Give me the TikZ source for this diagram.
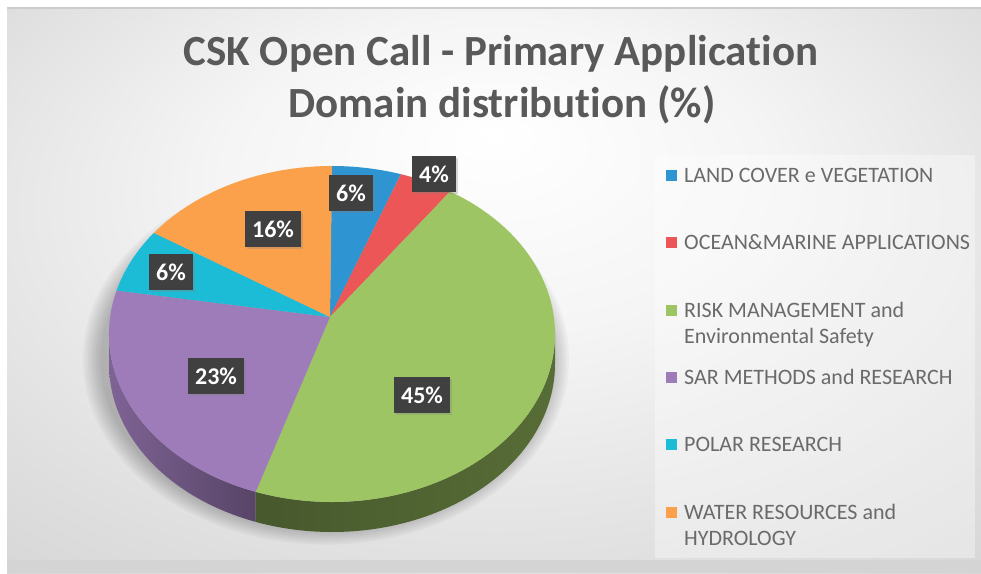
\documentclass[tikz,border=0pt]{standalone}
\usepackage{fontspec}
\setmainfont{Carlito}[Ligatures=NoCommon]
\usepackage{tikz}
\usetikzlibrary{arrows,positioning}
\usetikzlibrary{shadows}

\definecolor{landblue}{HTML}{2E95D2}
\definecolor{oceanred}{HTML}{EC5656}
\definecolor{riskgreen}{HTML}{9EC563}
\definecolor{sarpurple}{HTML}{9E7CBA}
\definecolor{polarcyan}{HTML}{1CBBD6}
\definecolor{waterorange}{HTML}{FBA14B}
\definecolor{boxgray}{HTML}{404040}
\definecolor{txtgray}{HTML}{595959}

\pgfdeclareradialshading{panelshade}{\pgfpoint{0bp}{14bp}}{color(0bp)=(white); color(14bp)=(black!4); color(32bp)=(black!13); color(50bp)=(black!21)}

\tikzset{
  ttl/.style={text=txtgray, font=\bfseries\fontsize{43}{43}\selectfont, inner sep=0pt, anchor=base},
  pctbox/.style={fill=boxgray, text=white, font=\bfseries\fontsize{24}{24}\selectfont,
    inner xsep=7pt, inner ysep=0pt, minimum height=36pt,
    drop shadow={opacity=0.3, shadow xshift=2pt, shadow yshift=-2pt}},
  legkey/.style={fill=#1, minimum size=11pt, inner sep=0pt},
  legtxt/.style={text=txtgray!90, font=\fontsize{22}{26}\selectfont, inner sep=0pt, anchor=base west, align=left}
}

\begin{document}
\begin{tikzpicture}[x=1pt,y=1pt]%
\useasboundingbox (0,0) rectangle (981,573);
% panel
\fill[white] (0,0) rectangle (981,573);
\shade[shading=panelshade] (7,0) rectangle (981,565);
\fill[black!17] (7,0) rectangle (981,13);
\draw[black!20, line width=2pt] (7,565) -- (981,565);
\fill[white, opacity=0.35] (655,15) rectangle (975,418);

% shadow below the pie
\foreach \k in {1,...,8}
  \fill[black, opacity=0.03] (326,214) ellipse [x radius=223+\k*2.5, y radius=168+\k*2.2];

\begin{scope}[shift={(332,239)}]
  % side of the pie
  \shade[left color=sarpurple!80!black, right color=sarpurple!55!black]
    (180:223 and 168) arc[start angle=180, end angle=250, x radius=223, y radius=168]
    -- ++(0,-30) arc[start angle=250, end angle=180, x radius=223, y radius=168] -- cycle;
  \shade[left color=riskgreen!45!black, right color=riskgreen!55!black]
    (250:223 and 168) arc[start angle=250, end angle=360, x radius=223, y radius=168]
    -- ++(0,-30) arc[start angle=360, end angle=250, x radius=223, y radius=168] -- cycle;
  % top of the pie
  \coordinate (apex) at (-2,17);
  \foreach \s/\e/\c in {90/72/landblue, 72/58/oceanred, 58/-110/riskgreen,
                        -110/-195/sarpurple, -195/-217/polarcyan, -217/-270/waterorange}
    \fill[\c] (apex) -- (\s:223 and 168) arc[start angle=\s, end angle=\e, x radius=223, y radius=168] -- cycle;
\end{scope}

% title
\node[ttl] (ttl1) at (501,507) {CSK Open Call - Primary Application};
\node[ttl] (ttl2) at (502,455) {Domain distribution (\%)};

% percent labels
\node[pctbox] (pland)  at (351,380) {6\%};
\node[pctbox] (pocean) at (434,399) {4\%};
\node[pctbox] (pwater) at (273,344) {16\%};
\node[pctbox] (ppolar) at (171,301) {6\%};
\node[pctbox] (psar)   at (216,197) {23\%};
\node[pctbox] (prisk)  at (422,178) {45\%};

% legend
\node[legkey=landblue]    (kland)  at (671.5,397) {};
\node[legkey=oceanred]    (kocean) at (671.5,330) {};
\node[legkey=riskgreen]   (krisk)  at (671.5,262) {};
\node[legkey=sarpurple]   (ksar)   at (671.5,196) {};
\node[legkey=polarcyan]   (kpolar) at (671.5,129) {};
\node[legkey=waterorange] (kwater) at (671.5,61) {};
\node[legtxt] (tland)  at (684,390) {LAND COVER e VEGETATION};
\node[legtxt] (tocean) at (684,323) {OCEAN\&MARINE APPLICATIONS};
\node[legtxt] (trisk)  at (684,229) {RISK MANAGEMENT and\\Environmental Safety};
\node[legtxt] (tsar)   at (684,189) {SAR METHODS and RESEARCH};
\node[legtxt] (tpolar) at (684,122) {POLAR RESEARCH};
\node[legtxt] (twater) at (684,28)  {WATER RESOURCES and\\HYDROLOGY};
\end{tikzpicture}
\end{document}
